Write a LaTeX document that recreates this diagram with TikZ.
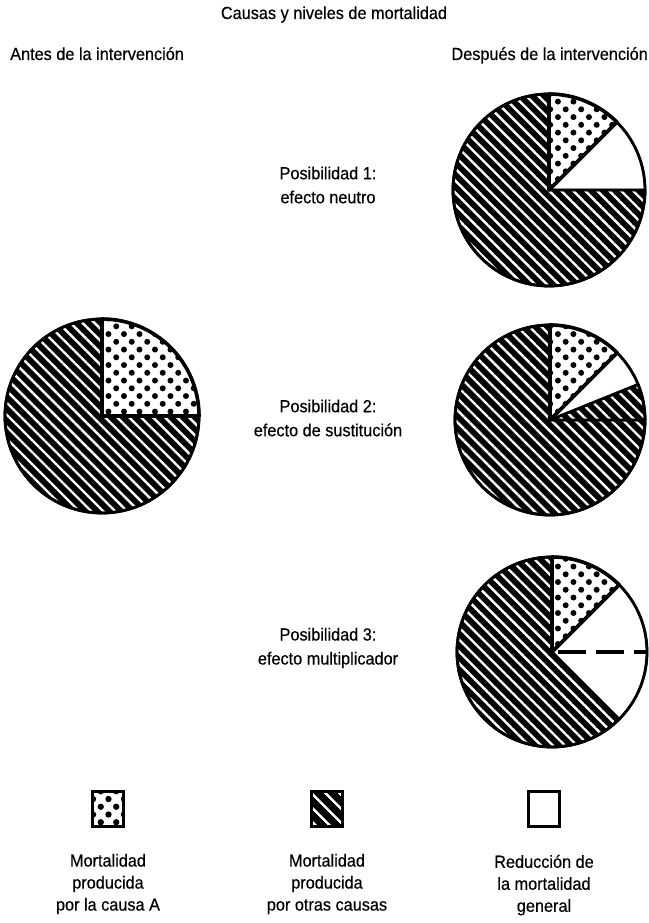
\documentclass[tikz,border=0pt]{standalone}
\usepackage{fontspec}
\setmainfont{Liberation Sans}[FakeStretch=0.93, FakeBold=0.4]
\usepackage{tikz}
\usetikzlibrary{positioning, patterns.meta}

\tikzset{
  hatchfill/.style={fill=black,
    postaction={pattern={Lines[angle=-45, distance=8.5pt, line width=2.4pt]}, pattern color=white},
    postaction={draw=black, line width=2.8pt, line join=round}},
  dotfill/.style={pattern={Dots[angle=45, distance=11pt, radius=3pt]}, pattern color=black,
    postaction={draw=black, line width=3.6pt, line join=round}},
  blank/.style={draw=black, line width=2.2pt, line join=round},
  rim/.style={draw=black, line width=2.8pt},
  keybox/.style={minimum width=31bp, minimum height=35bp, inner sep=0pt},
  txt/.style={font=\fontsize{17.5bp}{22bp}\selectfont, inner sep=0pt, align=center}
}

\begin{document}
\begin{tikzpicture}[x=1bp, y=1bp]
  \useasboundingbox (0,0) rectangle (649,923);

  \coordinate (pieA) at (102,507);
  \coordinate (pie1) at (549,733);
  \coordinate (pie2) at (550,503);
  \coordinate (pie3) at (552,271);

  % antes de la intervencion
  \path[hatchfill] (pieA) -- +(90:97) arc[start angle=90, end angle=360, radius=97] -- cycle;
  \path[dotfill] (pieA) -- +(0:97) arc[start angle=0, end angle=90, radius=97] -- cycle;
  \draw[rim] (pieA) circle[radius=97];

  % posibilidad 1
  \path[hatchfill] (pie1) -- +(90:96) arc[start angle=90, end angle=360, radius=96] -- cycle;
  \path[dotfill] (pie1) -- +(45:96) arc[start angle=45, end angle=90, radius=96] -- cycle;
  \draw[blank] (pie1) -- +(0:96) arc[start angle=0, end angle=45, radius=96] -- cycle;
  \draw[rim] (pie1) circle[radius=96];

  % posibilidad 2
  \path[hatchfill] (pie2) -- +(90:95) arc[start angle=90, end angle=360, radius=95] -- cycle;
  \path[hatchfill] (pie2) -- +(0:95) arc[start angle=0, end angle=22, radius=95] -- cycle;
  \path[dotfill] (pie2) -- +(45:95) arc[start angle=45, end angle=90, radius=95] -- cycle;
  \draw[blank] (pie2) -- +(22:95) arc[start angle=22, end angle=45, radius=95] -- cycle;
  \draw[rim] (pie2) circle[radius=95];

  % posibilidad 3
  \path[hatchfill] (pie3) -- +(90:95) arc[start angle=90, end angle=315, radius=95] -- cycle;
  \path[dotfill] (pie3) -- +(45:95) arc[start angle=45, end angle=90, radius=95] -- cycle;
  \draw[blank] (pie3) -- +(-45:95) arc[start angle=-45, end angle=45, radius=95] -- cycle;
  \draw[line width=3.4pt, dash pattern=on 28pt off 10pt, dash phase=32pt] (pie3) -- +(0:95);
  \draw[rim] (pie3) circle[radius=95];

  \begin{scope}[every node/.append style={txt}]
    \node[anchor=base] (title) at (334,904) {Causas y niveles de mortalidad};
    \node[anchor=base west] (antes) at (10,863) {Antes de la intervención};
    \node[anchor=base east] (despues) at (648,863) {Después de la intervención};

    \node[font=\fontsize{17.5bp}{24bp}\selectfont] (pos1) at (328,738) {Posibilidad 1:\\efecto neutro};
    \node[font=\fontsize{17.5bp}{24bp}\selectfont] (pos2) at (328,505) {Posibilidad 2:\\efecto de sustitución};
    \node[font=\fontsize{17.5bp}{24bp}\selectfont] (pos3) at (328,275) {Posibilidad 3:\\efecto multiplicador};
  \end{scope}

  % leyenda
  \node[keybox, pattern={Dots[angle=45, distance=11pt, radius=3.2pt]}, pattern color=black,
        postaction={draw=black, line width=3.8pt}] (keyA) at (108,114) {};
  \node[keybox, fill=black,
        postaction={pattern={Lines[angle=-45, distance=10.5pt, line width=2.6pt]}, pattern color=white},
        postaction={draw=black, line width=2.8pt}] (keyB) at (327,114) {};
  \node[keybox, draw=black, line width=2.4pt] (keyC) at (544,114) {};

  \begin{scope}[every node/.append style={txt}]
    \node[below=27bp of keyA] (labA) {Mortalidad\\producida\\por la causa A};
    \node[below=27bp of keyB] (labB) {Mortalidad\\producida\\por otras causas};
    \node[below=27bp of keyC] (labC) {Reducción de\\la mortalidad\\general};
  \end{scope}
\end{tikzpicture}
\end{document}
